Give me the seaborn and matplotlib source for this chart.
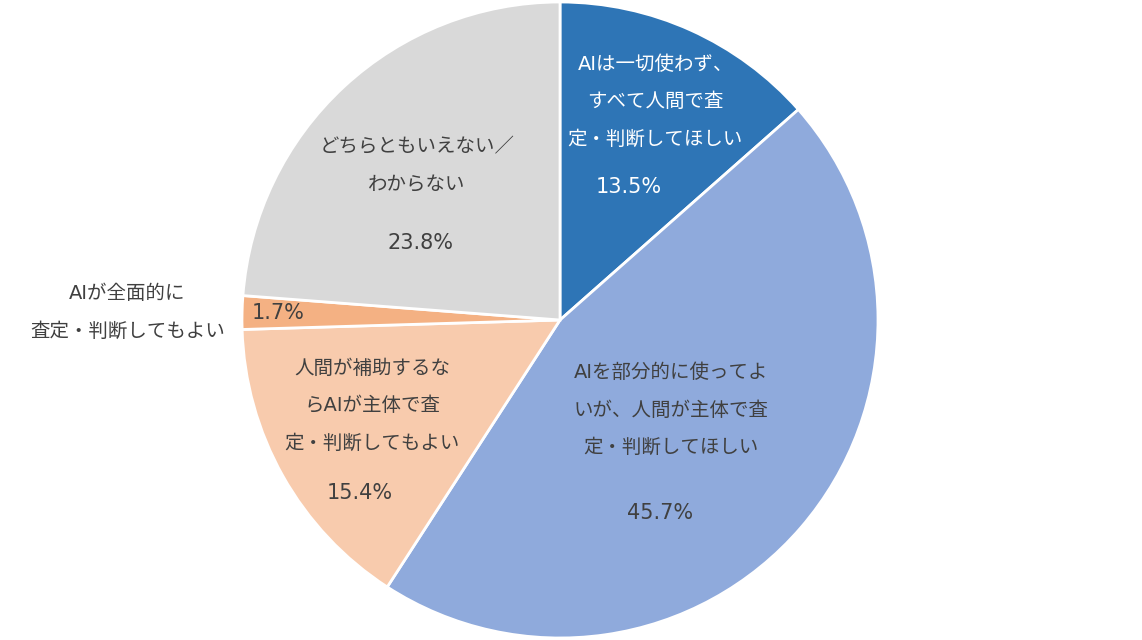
import matplotlib.pyplot as plt
import seaborn as sns

sns.set_style('white')
plt.rcParams['font.family'] = ['DejaVu Sans', 'Noto Sans CJK JP']

labels = ['AIは一切使わず、\nすべて人間で査\n定・判断してほしい',
          'AIを部分的に使ってよ\nいが、人間が主体で査\n定・判断してほしい',
          '人間が補助するな\nらAIが主体で査\n定・判断してもよい',
          'AIが全面的に\n査定・判断してもよい',
          'どちらともいえない／\nわからない']
values = [13.5, 45.7, 15.4, 1.7, 23.8]
colors = sns.color_palette(['#2E75B6', '#8FAADC', '#F8CBAD', '#F4B183', '#D9D9D9'])
text_colors = ['white', '#404040', '#404040', '#404040', '#404040']

# label / percent positions (data units of the pie, radius 1)
label_pos = [(0.30, 0.686), (0.35, -0.283), (-0.59, -0.27), (-1.36, 0.025), (-0.45, 0.484)]
pct_pos = [(0.215, 0.418), (0.314, -0.607), (-0.63, -0.544), (-0.885, 0.022), (-0.44, 0.242)]

fig = plt.figure(figsize=(11.42, 6.4), dpi=100)
ax = fig.add_axes([(560 - 318) / 1142, 2 / 640, 636 / 1142, 636 / 640])
ax.pie(values, colors=colors, startangle=90, counterclock=False, radius=1,
       wedgeprops=dict(edgecolor='white', linewidth=2))
ax.set_xlim(-1, 1)
ax.set_ylim(-1, 1)
ax.set_aspect('equal')

for lab, v, (lx, ly), (px, py), tc in zip(labels, values, label_pos, pct_pos, text_colors):
    ax.text(lx, ly, lab, ha='center', va='center', fontsize=14, color=tc,
            linespacing=2.25, clip_on=False)
    ax.text(px, py, f'{v:.1f}%', ha='center', va='center', fontsize=15, color=tc)

fig.savefig('out.png', dpi=100)
